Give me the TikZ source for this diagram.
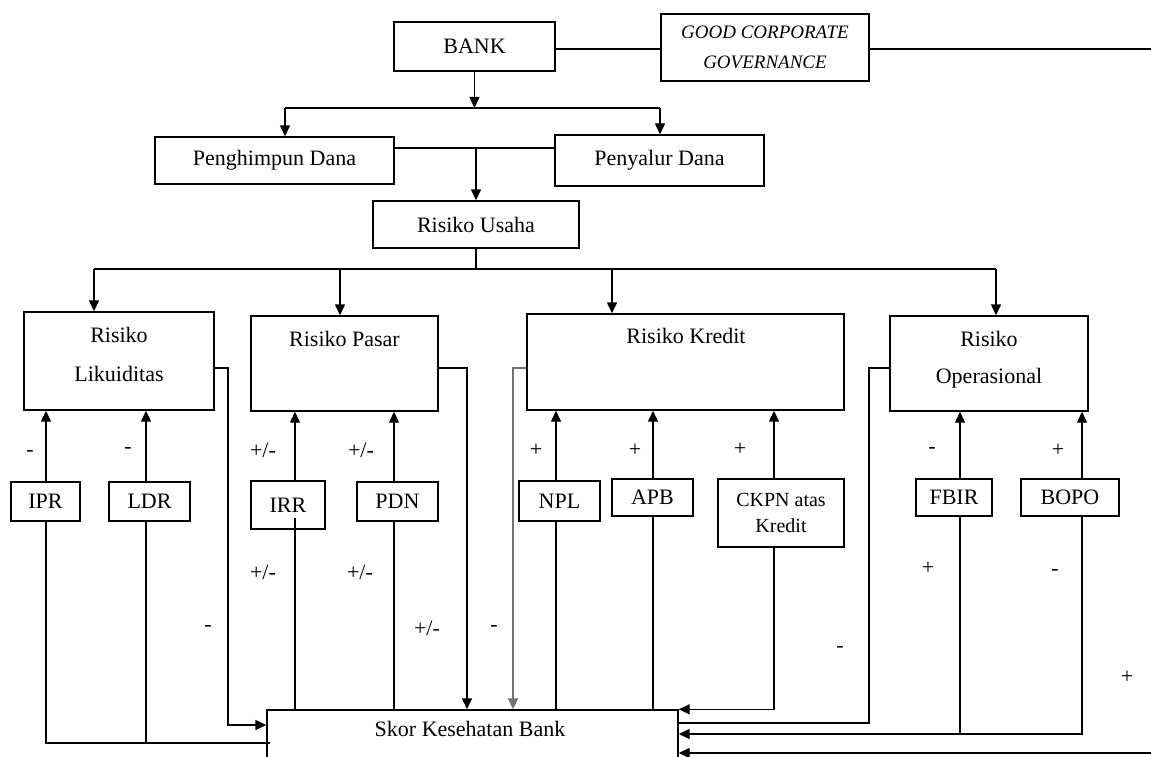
\documentclass[tikz,border=0pt]{standalone}
\usepackage{fontspec}
\setmainfont{Liberation Serif}
\usetikzlibrary{arrows.meta,calc}
\begin{document}
\begin{tikzpicture}[x=1pt,y=-1pt,line width=1.4pt,
  font=\fontsize{22}{26}\selectfont,
  box/.style={draw,rectangle,inner sep=0pt,line width=1.4pt,align=center},
  arr/.style={-{Triangle[length=11pt,width=10pt]}},
  lbl/.style={inner sep=0pt},
  txt/.style={inner sep=0pt,anchor=base}]
\useasboundingbox (0,0) rectangle (1151,757);
\clip (0,0) rectangle (1151,757);
\fill[white] (0,0) rectangle (1151,757);

% boxes
\node[box,minimum width=161,minimum height=49] (bank) at (474.5,46.5) {BANK};
\node[box,minimum width=208,minimum height=67,font=\fontsize{19}{30}\selectfont\itshape] (gcg) at (765,47.5) {GOOD CORPORATE\\GOVERNANCE};
\node[box,minimum width=239,minimum height=47] (peng) at (274.5,160.5) {Penghimpun Dana};
\node[box,minimum width=209,minimum height=51] (peny) at (659.5,160.5) {Penyalur Dana};
\node[box,minimum width=206,minimum height=47] (usaha) at (476,224.5) {Risiko Usaha};
\node[box,minimum width=190,minimum height=98] (lik) at (119,361) {};
\node[box,minimum width=187,minimum height=95] (pasar) at (344.5,363.5) {};
\node[box,minimum width=317,minimum height=96] (kredit) at (685.5,362) {};
\node[box,minimum width=198,minimum height=95] (op) at (989,363.5) {};
\node[box,minimum width=69,minimum height=39] (ipr) at (45.5,501.5) {IPR};
\node[box,minimum width=81,minimum height=39] (ldr) at (149.5,501.5) {LDR};
\node[box,minimum width=74,minimum height=48] (irr) at (288,505) {IRR};
\node[box,minimum width=81,minimum height=39] (pdn) at (397.5,501.5) {PDN};
\node[box,minimum width=81,minimum height=40] (npl) at (559.5,501) {NPL};
\node[box,minimum width=81,minimum height=37] (apb) at (652.5,497.5) {APB};
\node[box,minimum width=126,minimum height=68,font=\fontsize{20}{26}\selectfont] (ckpn) at (781,513) {CKPN atas\\Kredit};
\node[box,minimum width=76,minimum height=37] (fbir) at (954,497.5) {FBIR};
\node[box,minimum width=98,minimum height=37] (bopo) at (1070,497.5) {BOPO};
\node[box,minimum width=411,minimum height=100] (skor) at (472.5,760) {};

% texts in large boxes
\node[txt] at (119,342) {Risiko};
\node[txt] at (119,381) {Likuiditas};
\node[txt] at (344.5,346) {Risiko Pasar};
\node[txt] at (686,343) {Risiko Kredit};
\node[txt] at (989,346) {Risiko};
\node[txt] at (989,383) {Operasional};
\node[txt] at (470,736) {Skor Kesehatan Bank};

% helper coordinates
\coordinate (rt) at (1151,49);
\coordinate (y1) at (0,108);
\coordinate (y2) at (0,148);
\coordinate (y3) at (0,269);
\coordinate (ym) at (0,368);
\coordinate (yirr) at (0,518);
\coordinate (yo) at (0,723);
\coordinate (yl) at (0,725);
\coordinate (yf) at (0,734);
\coordinate (yb) at (0,743);
\coordinate (rb) at (1151,753);
\coordinate (iprend) at (270,743);
\coordinate (cPeng) at (285,0);
\coordinate (cPeny) at (660,0);
\coordinate (cU1) at (94,0);
\coordinate (cU2) at (340,0);
\coordinate (cU3) at (612,0);
\coordinate (cU4) at (996,0);
\coordinate (cI) at (46,0);
\coordinate (cL) at (146,0);
\coordinate (cR) at (295,0);
\coordinate (cP) at (394,0);
\coordinate (cN) at (556,0);
\coordinate (cA) at (653,0);
\coordinate (cC) at (774,0);
\coordinate (cF) at (960,0);
\coordinate (cB) at (1082,0);
\coordinate (cLk) at (228,0);
\coordinate (cPr) at (467,0);
\coordinate (cKl) at (513,0);
\coordinate (cOl) at (869,0);

% top connectors
\draw (bank.east |- rt) -- (gcg.west |- rt);
\draw (gcg.east |- rt) -- (rt);
\draw[arr] (bank.south) -- (bank.south |- y1);
\draw (cPeng |- y1) -- (cPeny |- y1);
\draw[arr] (cPeng |- y1) -- (cPeng |- peng.north);
\draw[arr] (cPeny |- y1) -- (cPeny |- peny.north);
\draw (peng.east |- y2) -- (peny.west |- y2);
\draw[arr] (usaha.north |- y2) -- (usaha.north);
\draw (usaha.south) -- (usaha.south |- y3);
\draw (cU1 |- y3) -- (cU4 |- y3);
\foreach \c/\n in {cU1/lik,cU2/pasar,cU3/kredit,cU4/op}
  \draw[arr] (\c |- y3) -- (\c |- \n.north);

% indicators up to risk boxes
\foreach \c/\s/\t in {cI/ipr/lik,cL/ldr/lik,cR/irr/pasar,cP/pdn/pasar,cN/npl/kredit,cA/apb/kredit,cC/ckpn/kredit,cF/fbir/op,cB/bopo/op}
  \draw[arr] (\c |- \s.north) -- (\c |- \t.south);

% indicators down to score
\draw (cI |- ipr.south) -- (cI |- yb) -- (iprend);
\draw (cL |- ldr.south) -- (cL |- yb);
\draw (cR |- yirr) -- (cR |- skor.north);
\draw (cP |- pdn.south) -- (cP |- skor.north);
\draw (cN |- npl.south) -- (cN |- skor.north);
\draw (cA |- apb.south) -- (cA |- skor.north);
\draw[arr] (cC |- ckpn.south) -- (cC |- skor.north) -- (skor.north east);
\draw (cF |- fbir.south) -- (cF |- yf);
\draw[arr] (cB |- bopo.south) -- (cB |- yf) -- (skor.east |- yf);

% risk boxes to score
\draw[arr] (lik.east |- ym) -- (cLk |- ym) -- (cLk |- yl) -- (skor.west |- yl);
\draw[arr] (pasar.east |- ym) -- (cPr |- ym) -- (cPr |- skor.north);
\draw[arr,draw=black!55,line width=1.8pt] (kredit.west |- ym) -- (cKl |- ym) -- (cKl |- skor.north);
\draw (op.west |- ym) -- (cOl |- ym) -- (cOl |- yo) -- (skor.east |- yo);
\draw[arr] (rb) -- (skor.east |- rb);

% signs
\node[lbl] at (30,453) {-};
\node[lbl] at (128,450) {-};
\node[lbl] at (263,450) {+/-};
\node[lbl] at (361,450) {+/-};
\node[lbl] at (536,450) {+};
\node[lbl] at (635,450) {+};
\node[lbl] at (740,449) {+};
\node[lbl] at (932,450) {-};
\node[lbl] at (1058,450) {+};
\node[lbl] at (263,572) {+/-};
\node[lbl] at (360,572) {+/-};
\node[lbl] at (208,628) {-};
\node[lbl] at (427,628) {+/-};
\node[lbl] at (494,628) {-};
\node[lbl] at (928,568) {+};
\node[lbl] at (1055,572) {-};
\node[lbl] at (840,649) {-};
\node[lbl] at (1127,677) {+};
\end{tikzpicture}
\end{document}
